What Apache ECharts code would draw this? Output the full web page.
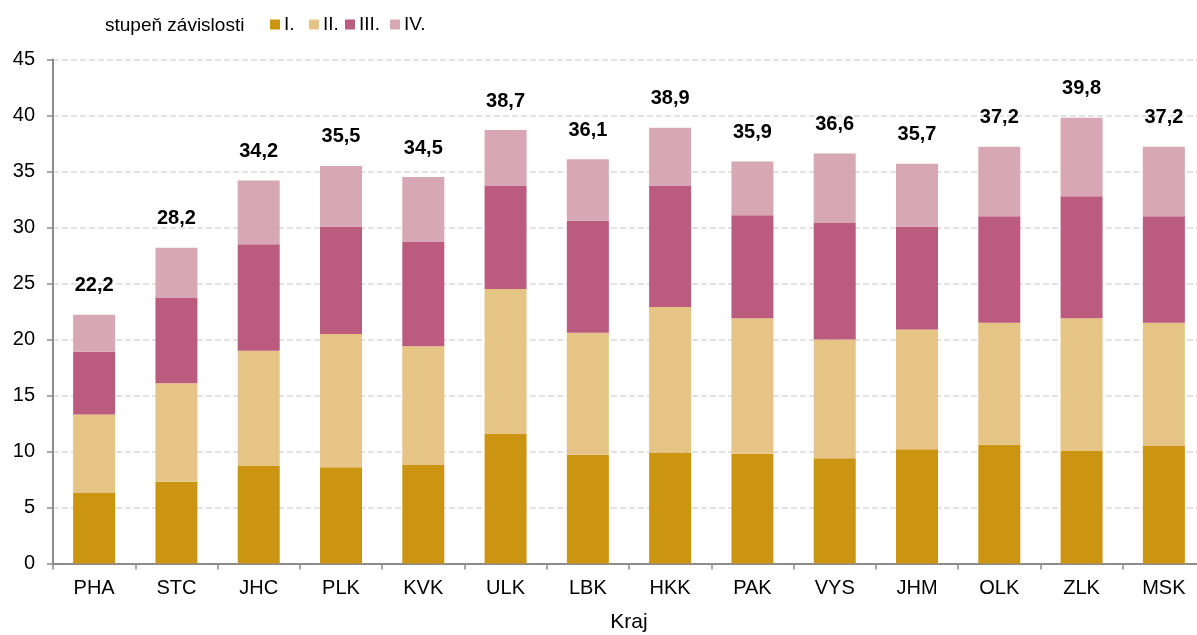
<!DOCTYPE html>
<html>
<head>
<meta charset="utf-8">
<script src="https://cdn.jsdelivr.net/npm/echarts@6/dist/echarts.min.js"></script>
<style>
html, body { margin: 0; padding: 0; background: #fff; }
#main { width: 1197px; height: 635px; }
</style>
</head>
<body>
<div id="main"></div>
<script>
// kraje
let kraje = ['PHA', 'STC', 'JHC', 'PLK', 'KVK', 'ULK', 'LBK', 'HKK', 'PAK', 'VYS', 'JHM', 'OLK', 'ZLK', 'MSK'];

// stupne zavislosti
let stupenI   = [6.3, 7.3, 8.7, 8.6, 8.8, 11.6, 9.7, 9.9, 9.8, 9.4, 10.2, 10.6, 10.1, 10.5];
let stupenII  = [7.0, 8.8, 10.3, 11.9, 10.6, 12.9, 10.9, 13.0, 12.1, 10.6, 10.7, 10.9, 11.8, 11.0];
let stupenIII = [5.6, 7.6, 9.5, 9.6, 9.3, 9.2, 10.0, 10.8, 9.2, 10.4, 9.2, 9.5, 10.9, 9.5];
let stupenIV  = [3.3, 4.5, 5.7, 5.4, 5.8, 5.0, 5.5, 5.2, 4.8, 6.2, 5.6, 6.2, 7.0, 6.2];

// popisky souctu nad sloupci
let soucty = ['22,2', '28,2', '34,2', '35,5', '34,5', '38,7', '36,1', '38,9', '35,9', '36,6', '35,7', '37,2', '39,8', '37,2'];

let nazvy = ['I.', 'II.', 'III.', 'IV.'];
let barvy = ['#CC9511', '#E6C486', '#BB5B7E', '#D8A7B6'];

let myChart = echarts.init(document.getElementById('main'));

let font = 'Liberation Sans, Arial, sans-serif';

function serie(i, data) {
    let s = {
        name: nazvy[i],
        type: 'bar',
        stack: 'celkem',
        barWidth: 42,
        data: data,
        itemStyle: {color: barvy[i]}
    };
    if (i === 3) {
        s.label = {
            show: true,
            position: 'top',
            distance: 19,
            fontFamily: font,
            fontSize: 20,
            fontWeight: 'bold',
            color: '#000',
            formatter: function (p) {
                return soucty[p.dataIndex];
            }
        };
    }
    return s;
}

// legenda - kazda polozka zvlast
let legendLeft = [265, 304, 340, 385];
let legendy = nazvy.map(function (n, i) {
    return {
        left: legendLeft[i],
        top: 10,
        itemWidth: 10,
        itemHeight: 10,
        itemGap: 0,
        icon: 'rect',
        textStyle: {fontFamily: font, fontSize: 19, color: '#000', padding: [0, 0, 0, -1]},
        data: [n]
    };
});

let option = {
    animation: false,
    textStyle: {fontFamily: font},
    grid: {
        left: 53,
        right: -8,
        top: 59.5,
        bottom: 71.5,
        containLabel: false,
        outerBoundsMode: 'none'
    },
    graphic: [{
        type: 'text',
        left: 105,
        top: 16,
        style: {
            text: 'stupeň závislosti',
            fontFamily: font,
            fontSize: 19,
            fill: '#000'
        }
    }],
    legend: legendy,
    xAxis: {
        type: 'category',
        data: kraje,
        name: 'Kraj',
        nameLocation: 'middle',
        nameGap: 48,
        nameTextStyle: {fontFamily: font, fontSize: 21, color: '#000'},
        axisLine: {lineStyle: {color: '#8c8c8c', width: 2}},
        axisTick: {show: true, length: 6, lineStyle: {color: '#8c8c8c', width: 1.5}},
        axisLabel: {fontFamily: font, fontSize: 20, color: '#000', margin: 15}
    },
    yAxis: {
        type: 'value',
        min: 0,
        max: 45,
        interval: 5,
        axisLine: {show: true, lineStyle: {color: '#8c8c8c', width: 2}},
        axisTick: {show: true, length: 6, lineStyle: {color: '#8c8c8c', width: 1.5}},
        axisLabel: {fontFamily: font, fontSize: 20, color: '#000', margin: 18},
        splitLine: {lineStyle: {color: '#d9d9d9', type: [6, 3], width: 1.5}}
    },
    series: [
        serie(0, stupenI),
        serie(1, stupenII),
        serie(2, stupenIII),
        serie(3, stupenIV)
    ]
};

myChart.setOption(option);
</script>
</body>
</html>
